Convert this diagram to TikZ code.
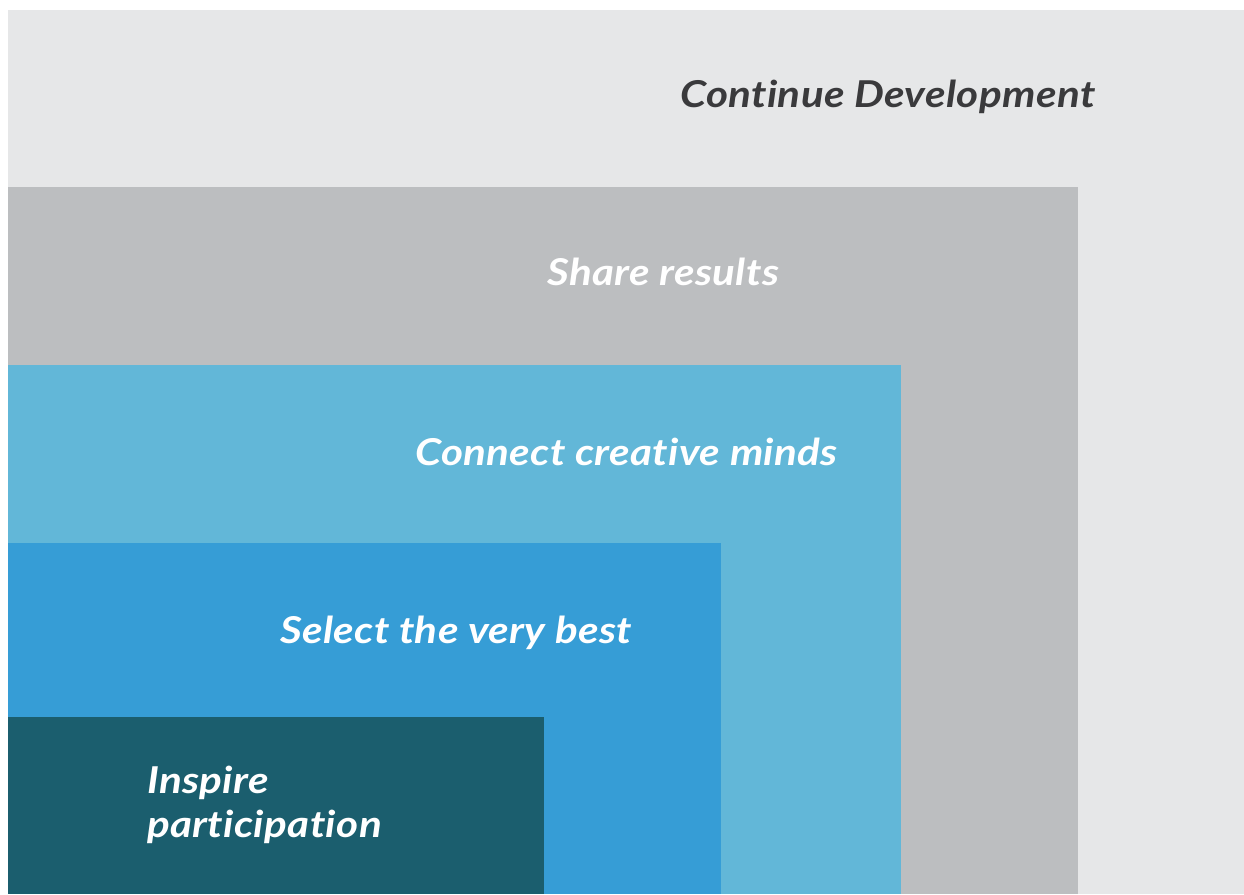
\documentclass[tikz,border=0pt]{standalone}
\usepackage{fontspec}
\setmainfont{Lato}[Ligatures={NoCommon}]
\newfontfamily\labelfont{Lato}[Ligatures={NoCommon},FakeStretch=1.14,LetterSpace=1.0]
\definecolor{bgw}{HTML}{FFFFFF}
\definecolor{lvl0}{HTML}{E6E7E8}
\definecolor{lvl1}{HTML}{BCBEC0}
\definecolor{lvl2}{HTML}{62B7D8}
\definecolor{lvl3}{HTML}{369DD6}
\definecolor{lvl4}{HTML}{1B5E6E}
\definecolor{darktext}{HTML}{3A3A3C}
\tikzset{
  label/.style={inner sep=0pt, font=\labelfont\fontsize{37}{41}\selectfont\bfseries\itshape, text=white, anchor=base west},
  darklabel/.style={label, text=darktext}
}
\begin{document}
\begin{tikzpicture}[x=1pt,y=-1pt]
\useasboundingbox (0,0) rectangle (1244,894);
\fill[bgw] (0,0) rectangle (1244,894);
\fill[lvl0] (8,10) rectangle (1244,894);
\fill[lvl1] (8,187) rectangle (1078,894);
\fill[lvl2] (8,365) rectangle (901,894);
\fill[lvl3] (8,543) rectangle (721,894);
\fill[lvl4] (8,717) rectangle (544,894);
\node[darklabel] (t0) at (680,107) {Continue Development};
\node[label] (t1) at (547,285) {Share results};
\node[label] (t2) at (415,465) {Connect creative minds};
\node[label] (t3) at (280,643) {Select the very best};
\node[label] (t4a) at (147,793) {Inspire};
\node[label] (t4b) at (147,837) {participation};
\end{tikzpicture}
\end{document}
